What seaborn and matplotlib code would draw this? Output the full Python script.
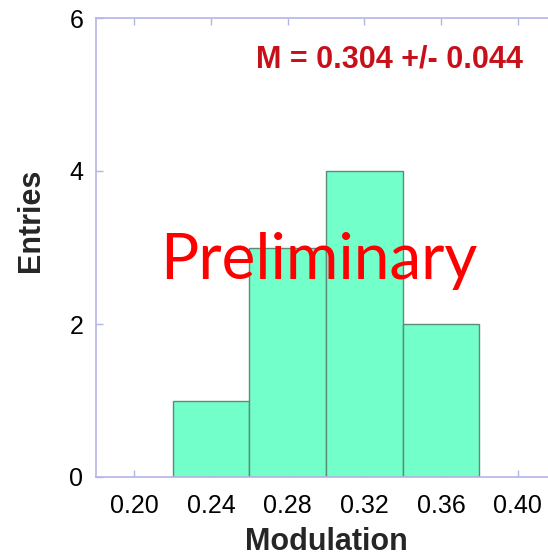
import matplotlib
matplotlib.use("Agg")
import matplotlib.pyplot as plt
import seaborn as sns
import numpy as np

# Data
bin_edges = [0.22, 0.26, 0.30, 0.34, 0.38]
counts = [1, 3, 4, 2]
x_ticks = [0.20, 0.24, 0.28, 0.32, 0.36, 0.40]
x_tick_labels = ["0.20", "0.24", "0.28", "0.32", "0.36", "0.40"]
y_ticks = [0, 2, 4, 6]
annotation = "M = 0.304 +/- 0.044"
watermark = "Preliminary"

sns.set_style("white")
plt.rcParams["font.family"] = ["Liberation Sans", "DejaVu Sans"]

centers = [(a + b) / 2 for a, b in zip(bin_edges[:-1], bin_edges[1:])]

fig = plt.figure(figsize=(5.48, 5.56), dpi=100)
ax = fig.add_axes([96 / 548, 79 / 556, 460 / 548, 459 / 556])

sns.histplot(x=centers, weights=counts, bins=bin_edges, ax=ax,
             color="#72FFCA", edgecolor="#5E8A7A", linewidth=1.0, alpha=1.0)

ax.set_xlim(0.18, 0.42)
ax.set_ylim(0, 6)
ax.set_xticks(x_ticks)
ax.set_xticklabels(x_tick_labels)
ax.set_yticks(y_ticks)

axis_color = "#B4B4E6"
for side in ["left", "bottom", "top", "right"]:
    ax.spines[side].set_visible(True)
    ax.spines[side].set_color(axis_color)
    ax.spines[side].set_linewidth(1.2)

ax.tick_params(axis="both", direction="in", length=5, width=1.0, color=axis_color,
               labelsize=18, labelcolor="black", top=True, right=True, left=True, bottom=True)
ax.tick_params(axis="x", pad=12)
ax.tick_params(axis="y", pad=9)

ax.set_xlabel("Modulation", fontsize=22, fontweight="bold")
ax.set_ylabel("Entries", fontsize=22, fontweight="bold")
ax.xaxis.set_label_coords(0.5, -0.108)
ax.yaxis.set_label_coords(-0.108, 0.56)

ax.text(0.637, 0.9085, annotation, transform=ax.transAxes, fontsize=22,
        fontweight="bold", color="#C8101A", ha="center", va="center")

fig.text(319 / 548, 1 - 279 / 556, watermark, fontsize=46, color="#FF0000",
         ha="center", va="baseline", family=["Lato", "DejaVu Sans"], zorder=10)

fig.savefig("out.png", dpi=100)
